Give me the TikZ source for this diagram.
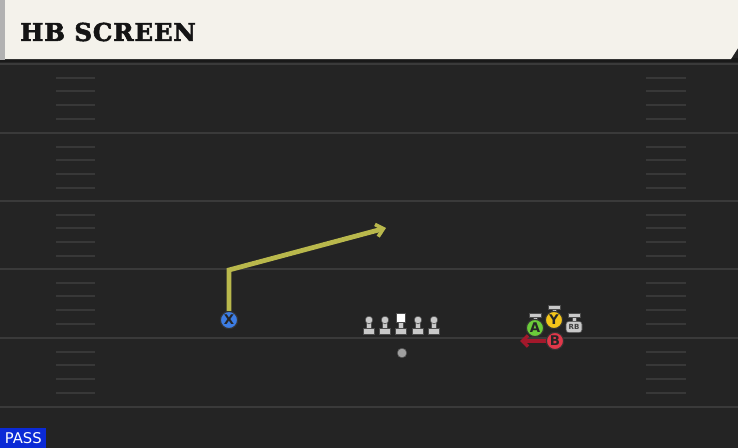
\documentclass[tikz,border=0pt]{standalone}
\usepackage{fontspec}
\usepackage{xcolor}
\usepackage{tikz}
\usetikzlibrary{arrows.meta}
\newfontfamily\titlefont[BoldFeatures={FakeBold=2.2, LetterSpace=3}]{DejaVu Serif}
\newfontfamily\labelfont{DejaVu Sans}

\definecolor{fieldbg}{HTML}{242424}
\definecolor{yardline}{HTML}{3A3A3A}
\definecolor{hashmark}{HTML}{383838}
\definecolor{banner}{HTML}{F4F2EB}
\definecolor{routeyel}{HTML}{B9B84C}
\definecolor{xblue}{HTML}{3D7DE3}
\definecolor{agreen}{HTML}{6BCB3A}
\definecolor{yyellow}{HTML}{F4C51A}
\definecolor{bred}{HTML}{E0384A}
\definecolor{blockred}{HTML}{A3182B}
\definecolor{olgray}{HTML}{C9C9C9}
\definecolor{passblue}{HTML}{0B2AD6}

\begin{document}
\begin{tikzpicture}[x=0.025cm, y=-0.025cm,
        player/.style={draw=black!80, circle, line width=0.8pt, minimum size=0.43cm, inner sep=0pt, font=\labelfont\bfseries\fontsize{9.5}{9.5}\selectfont, text=black!85},
        stance/.style={fill=olgray, draw=black!70, line width=0.4pt},
        route/.style={draw=routeyel, line width=3.4pt, -{Straight Barb[length=5pt, width=9pt, line width=2.6pt]}},
        block/.style={draw=blockred, line width=3.2pt, -{Straight Barb[length=4pt, width=8pt, line width=2.4pt]}}
    ]
    \useasboundingbox (0,0) rectangle (738,448);

        % Field
        \fill[fieldbg] (0,0) rectangle (738,448);
        \foreach \yl in {64,133,201,269,338,407}
            \draw[yardline, line width=1.6pt] (0,\yl) -- (738,\yl);
        \foreach \yl in {64,133,201,269,338} {
            \foreach \k in {1,2,3,4} {
                \draw[hashmark, line width=1.4pt] (56,\yl+\k*13.7) -- (95,\yl+\k*13.7);
                \draw[hashmark, line width=1.4pt] (646,\yl+\k*13.7) -- (686,\yl+\k*13.7);
            }
        }

        % Title banner
        \fill[black!90] (0,58) rectangle (738,62);
        \fill[gray!60] (0,0) rectangle (5,60);
        \fill[banner] (5,0) -- (738,0) -- (738,48) -- (731,59) -- (5,59) -- cycle;
        \node[anchor=west, inner sep=0pt, font=\titlefont\bfseries\fontsize{17.5}{18}\selectfont, text=black!92] (title) at (20,32) {HB SCREEN};

        % Offensive line
        \foreach \lx in {369,385,418,434} {
            \draw[stance] (\lx-5.5,328) rectangle (\lx+5.5,334);
            \draw[stance] (\lx-2.5,321) rectangle (\lx+2.5,328);
            \draw[stance] (\lx,320) circle (3.8);
        }
        \draw[stance] (395.5,328) rectangle (406.5,334);
        \draw[stance] (398.5,321) rectangle (403.5,328);
        \draw[fill=white, draw=black!70, line width=0.4pt] (396.5,313) rectangle (405.5,322);

        % Quarterback
        \node[circle, fill=gray!75, draw=black!70, line width=0.4pt, minimum size=0.24cm, inner sep=0pt] (qb) at (402,353) {};

        % Stances of the backs
        \draw[stance] (529,313.5) rectangle (541,317);
        \draw[stance] (533,317) rectangle (537,322);
        \draw[stance] (548,305.5) rectangle (560,309);
        \draw[stance] (552,309) rectangle (556,314);
        \draw[stance] (568,313.5) rectangle (580,317);
        \draw[stance] (572,317) rectangle (576,321);

        % Running back
        \node[fill=olgray, draw=black!70, line width=0.4pt, rounded corners=2pt, minimum width=0.4cm, minimum height=0.28cm, inner sep=0pt, font=\labelfont\bfseries\fontsize{5}{5}\selectfont, text=black!75] (rb) at (574,327) {RB};

        % Receivers
        \node[player, fill=xblue] (x) at (229,320) {X};
        \node[player, fill=agreen] (a) at (535,328) {A};
        \node[player, fill=yyellow] (y) at (554,320) {Y};

        % Routes
        \coordinate (xturn) at (229,270);
        \coordinate (xend) at (386,228);
        \draw[route] (x.north) -- (xturn) -- (xend);

        \coordinate (bend) at (520,341);
        \draw[block] (555,341) -- (bend);
        \node[player, fill=bred] (b) at (555,341) {B};

        % Play type
        \node[anchor=south west, fill=passblue, text=white, minimum width=1.15cm, minimum height=0.5cm, inner sep=0pt, font=\labelfont\fontsize{10.5}{10.5}\selectfont] (pass) at (0,448) {PASS};

    \end{tikzpicture}
\end{document}
